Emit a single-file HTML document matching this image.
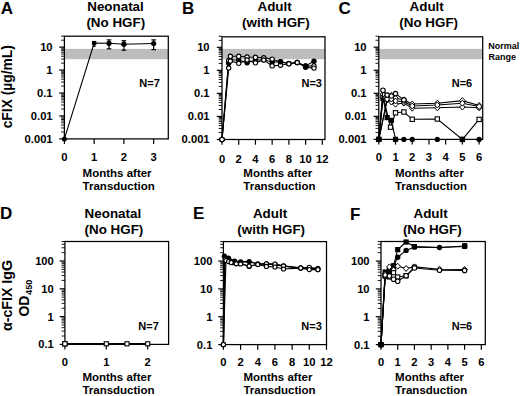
<!DOCTYPE html><html><head><meta charset="utf-8"><style>html,body{margin:0;padding:0;background:#fff;}svg{display:block;}</style></head><body>
<svg width="520" height="396" viewBox="0 0 520 396" font-family='"Liberation Sans", sans-serif'>
<rect width="520" height="396" fill="#fff"/>
<rect x="64.40" y="48.90" width="103.90" height="10.30" fill="#bdbdbd"/>
<rect x="64.40" y="36.20" width="103.90" height="102.70" fill="none" stroke="#000" stroke-width="1.25"/>
<line x1="59.20" y1="138.90" x2="64.40" y2="138.90" stroke="#000" stroke-width="1.2"/>
<line x1="61.10" y1="131.99" x2="64.40" y2="131.99" stroke="#000" stroke-width="0.9"/>
<line x1="61.10" y1="127.95" x2="64.40" y2="127.95" stroke="#000" stroke-width="0.9"/>
<line x1="61.10" y1="125.08" x2="64.40" y2="125.08" stroke="#000" stroke-width="0.9"/>
<line x1="61.10" y1="122.86" x2="64.40" y2="122.86" stroke="#000" stroke-width="0.9"/>
<line x1="61.10" y1="121.04" x2="64.40" y2="121.04" stroke="#000" stroke-width="0.9"/>
<line x1="61.10" y1="119.50" x2="64.40" y2="119.50" stroke="#000" stroke-width="0.9"/>
<line x1="61.10" y1="118.17" x2="64.40" y2="118.17" stroke="#000" stroke-width="0.9"/>
<line x1="61.10" y1="117.00" x2="64.40" y2="117.00" stroke="#000" stroke-width="0.9"/>
<line x1="59.20" y1="115.95" x2="64.40" y2="115.95" stroke="#000" stroke-width="1.2"/>
<line x1="61.10" y1="109.04" x2="64.40" y2="109.04" stroke="#000" stroke-width="0.9"/>
<line x1="61.10" y1="105.00" x2="64.40" y2="105.00" stroke="#000" stroke-width="0.9"/>
<line x1="61.10" y1="102.13" x2="64.40" y2="102.13" stroke="#000" stroke-width="0.9"/>
<line x1="61.10" y1="99.91" x2="64.40" y2="99.91" stroke="#000" stroke-width="0.9"/>
<line x1="61.10" y1="98.09" x2="64.40" y2="98.09" stroke="#000" stroke-width="0.9"/>
<line x1="61.10" y1="96.55" x2="64.40" y2="96.55" stroke="#000" stroke-width="0.9"/>
<line x1="61.10" y1="95.22" x2="64.40" y2="95.22" stroke="#000" stroke-width="0.9"/>
<line x1="61.10" y1="94.05" x2="64.40" y2="94.05" stroke="#000" stroke-width="0.9"/>
<line x1="59.20" y1="93.00" x2="64.40" y2="93.00" stroke="#000" stroke-width="1.2"/>
<line x1="61.10" y1="86.09" x2="64.40" y2="86.09" stroke="#000" stroke-width="0.9"/>
<line x1="61.10" y1="82.05" x2="64.40" y2="82.05" stroke="#000" stroke-width="0.9"/>
<line x1="61.10" y1="79.18" x2="64.40" y2="79.18" stroke="#000" stroke-width="0.9"/>
<line x1="61.10" y1="76.96" x2="64.40" y2="76.96" stroke="#000" stroke-width="0.9"/>
<line x1="61.10" y1="75.14" x2="64.40" y2="75.14" stroke="#000" stroke-width="0.9"/>
<line x1="61.10" y1="73.60" x2="64.40" y2="73.60" stroke="#000" stroke-width="0.9"/>
<line x1="61.10" y1="72.27" x2="64.40" y2="72.27" stroke="#000" stroke-width="0.9"/>
<line x1="61.10" y1="71.10" x2="64.40" y2="71.10" stroke="#000" stroke-width="0.9"/>
<line x1="59.20" y1="70.05" x2="64.40" y2="70.05" stroke="#000" stroke-width="1.2"/>
<line x1="61.10" y1="63.14" x2="64.40" y2="63.14" stroke="#000" stroke-width="0.9"/>
<line x1="61.10" y1="59.10" x2="64.40" y2="59.10" stroke="#000" stroke-width="0.9"/>
<line x1="61.10" y1="56.23" x2="64.40" y2="56.23" stroke="#000" stroke-width="0.9"/>
<line x1="61.10" y1="54.01" x2="64.40" y2="54.01" stroke="#000" stroke-width="0.9"/>
<line x1="61.10" y1="52.19" x2="64.40" y2="52.19" stroke="#000" stroke-width="0.9"/>
<line x1="61.10" y1="50.65" x2="64.40" y2="50.65" stroke="#000" stroke-width="0.9"/>
<line x1="61.10" y1="49.32" x2="64.40" y2="49.32" stroke="#000" stroke-width="0.9"/>
<line x1="61.10" y1="48.15" x2="64.40" y2="48.15" stroke="#000" stroke-width="0.9"/>
<line x1="59.20" y1="47.10" x2="64.40" y2="47.10" stroke="#000" stroke-width="1.2"/>
<line x1="61.10" y1="40.19" x2="64.40" y2="40.19" stroke="#000" stroke-width="0.9"/>
<line x1="61.10" y1="36.15" x2="64.40" y2="36.15" stroke="#000" stroke-width="0.9"/>
<text x="52.60" y="142.80" font-size="11.2" text-anchor="end" font-weight="bold" >0.001</text>
<text x="52.60" y="119.85" font-size="11.2" text-anchor="end" font-weight="bold" >0.01</text>
<text x="52.60" y="96.90" font-size="11.2" text-anchor="end" font-weight="bold" >0.1</text>
<text x="52.60" y="73.95" font-size="11.2" text-anchor="end" font-weight="bold" >1</text>
<text x="52.60" y="51.00" font-size="11.2" text-anchor="end" font-weight="bold" >10</text>
<line x1="64.40" y1="138.90" x2="64.40" y2="144.10" stroke="#000" stroke-width="1.2"/>
<text x="64.40" y="160.80" font-size="11.2" text-anchor="middle" font-weight="bold" >0</text>
<line x1="94.15" y1="138.90" x2="94.15" y2="144.10" stroke="#000" stroke-width="1.2"/>
<text x="94.15" y="160.80" font-size="11.2" text-anchor="middle" font-weight="bold" >1</text>
<line x1="123.90" y1="138.90" x2="123.90" y2="144.10" stroke="#000" stroke-width="1.2"/>
<text x="123.90" y="160.80" font-size="11.2" text-anchor="middle" font-weight="bold" >2</text>
<line x1="153.65" y1="138.90" x2="153.65" y2="144.10" stroke="#000" stroke-width="1.2"/>
<text x="153.65" y="160.80" font-size="11.2" text-anchor="middle" font-weight="bold" >3</text>
<rect x="222.00" y="48.90" width="103.00" height="10.30" fill="#bdbdbd"/>
<rect x="222.00" y="36.80" width="103.00" height="102.70" fill="none" stroke="#000" stroke-width="1.25"/>
<line x1="216.80" y1="139.50" x2="222.00" y2="139.50" stroke="#000" stroke-width="1.2"/>
<line x1="218.70" y1="132.56" x2="222.00" y2="132.56" stroke="#000" stroke-width="0.9"/>
<line x1="218.70" y1="128.50" x2="222.00" y2="128.50" stroke="#000" stroke-width="0.9"/>
<line x1="218.70" y1="125.62" x2="222.00" y2="125.62" stroke="#000" stroke-width="0.9"/>
<line x1="218.70" y1="123.39" x2="222.00" y2="123.39" stroke="#000" stroke-width="0.9"/>
<line x1="218.70" y1="121.56" x2="222.00" y2="121.56" stroke="#000" stroke-width="0.9"/>
<line x1="218.70" y1="120.02" x2="222.00" y2="120.02" stroke="#000" stroke-width="0.9"/>
<line x1="218.70" y1="118.68" x2="222.00" y2="118.68" stroke="#000" stroke-width="0.9"/>
<line x1="218.70" y1="117.50" x2="222.00" y2="117.50" stroke="#000" stroke-width="0.9"/>
<line x1="216.80" y1="116.45" x2="222.00" y2="116.45" stroke="#000" stroke-width="1.2"/>
<line x1="218.70" y1="109.51" x2="222.00" y2="109.51" stroke="#000" stroke-width="0.9"/>
<line x1="218.70" y1="105.45" x2="222.00" y2="105.45" stroke="#000" stroke-width="0.9"/>
<line x1="218.70" y1="102.57" x2="222.00" y2="102.57" stroke="#000" stroke-width="0.9"/>
<line x1="218.70" y1="100.34" x2="222.00" y2="100.34" stroke="#000" stroke-width="0.9"/>
<line x1="218.70" y1="98.51" x2="222.00" y2="98.51" stroke="#000" stroke-width="0.9"/>
<line x1="218.70" y1="96.97" x2="222.00" y2="96.97" stroke="#000" stroke-width="0.9"/>
<line x1="218.70" y1="95.63" x2="222.00" y2="95.63" stroke="#000" stroke-width="0.9"/>
<line x1="218.70" y1="94.45" x2="222.00" y2="94.45" stroke="#000" stroke-width="0.9"/>
<line x1="216.80" y1="93.40" x2="222.00" y2="93.40" stroke="#000" stroke-width="1.2"/>
<line x1="218.70" y1="86.46" x2="222.00" y2="86.46" stroke="#000" stroke-width="0.9"/>
<line x1="218.70" y1="82.40" x2="222.00" y2="82.40" stroke="#000" stroke-width="0.9"/>
<line x1="218.70" y1="79.52" x2="222.00" y2="79.52" stroke="#000" stroke-width="0.9"/>
<line x1="218.70" y1="77.29" x2="222.00" y2="77.29" stroke="#000" stroke-width="0.9"/>
<line x1="218.70" y1="75.46" x2="222.00" y2="75.46" stroke="#000" stroke-width="0.9"/>
<line x1="218.70" y1="73.92" x2="222.00" y2="73.92" stroke="#000" stroke-width="0.9"/>
<line x1="218.70" y1="72.58" x2="222.00" y2="72.58" stroke="#000" stroke-width="0.9"/>
<line x1="218.70" y1="71.40" x2="222.00" y2="71.40" stroke="#000" stroke-width="0.9"/>
<line x1="216.80" y1="70.35" x2="222.00" y2="70.35" stroke="#000" stroke-width="1.2"/>
<line x1="218.70" y1="63.41" x2="222.00" y2="63.41" stroke="#000" stroke-width="0.9"/>
<line x1="218.70" y1="59.35" x2="222.00" y2="59.35" stroke="#000" stroke-width="0.9"/>
<line x1="218.70" y1="56.47" x2="222.00" y2="56.47" stroke="#000" stroke-width="0.9"/>
<line x1="218.70" y1="54.24" x2="222.00" y2="54.24" stroke="#000" stroke-width="0.9"/>
<line x1="218.70" y1="52.41" x2="222.00" y2="52.41" stroke="#000" stroke-width="0.9"/>
<line x1="218.70" y1="50.87" x2="222.00" y2="50.87" stroke="#000" stroke-width="0.9"/>
<line x1="218.70" y1="49.53" x2="222.00" y2="49.53" stroke="#000" stroke-width="0.9"/>
<line x1="218.70" y1="48.35" x2="222.00" y2="48.35" stroke="#000" stroke-width="0.9"/>
<line x1="216.80" y1="47.30" x2="222.00" y2="47.30" stroke="#000" stroke-width="1.2"/>
<line x1="218.70" y1="40.36" x2="222.00" y2="40.36" stroke="#000" stroke-width="0.9"/>
<line x1="218.70" y1="36.30" x2="222.00" y2="36.30" stroke="#000" stroke-width="0.9"/>
<text x="209.60" y="143.40" font-size="11.2" text-anchor="end" font-weight="bold" >0.001</text>
<text x="209.60" y="120.35" font-size="11.2" text-anchor="end" font-weight="bold" >0.01</text>
<text x="209.60" y="97.30" font-size="11.2" text-anchor="end" font-weight="bold" >0.1</text>
<text x="209.60" y="74.25" font-size="11.2" text-anchor="end" font-weight="bold" >1</text>
<text x="209.60" y="51.20" font-size="11.2" text-anchor="end" font-weight="bold" >10</text>
<line x1="222.00" y1="139.50" x2="222.00" y2="144.70" stroke="#000" stroke-width="1.2"/>
<text x="222.00" y="162.50" font-size="11.2" text-anchor="middle" font-weight="bold" >0</text>
<line x1="238.72" y1="139.50" x2="238.72" y2="144.70" stroke="#000" stroke-width="1.2"/>
<text x="238.72" y="162.50" font-size="11.2" text-anchor="middle" font-weight="bold" >2</text>
<line x1="255.44" y1="139.50" x2="255.44" y2="144.70" stroke="#000" stroke-width="1.2"/>
<text x="255.44" y="162.50" font-size="11.2" text-anchor="middle" font-weight="bold" >4</text>
<line x1="272.16" y1="139.50" x2="272.16" y2="144.70" stroke="#000" stroke-width="1.2"/>
<text x="272.16" y="162.50" font-size="11.2" text-anchor="middle" font-weight="bold" >6</text>
<line x1="288.88" y1="139.50" x2="288.88" y2="144.70" stroke="#000" stroke-width="1.2"/>
<text x="288.88" y="162.50" font-size="11.2" text-anchor="middle" font-weight="bold" >8</text>
<line x1="305.60" y1="139.50" x2="305.60" y2="144.70" stroke="#000" stroke-width="1.2"/>
<text x="305.60" y="162.50" font-size="11.2" text-anchor="middle" font-weight="bold" >10</text>
<line x1="322.32" y1="139.50" x2="322.32" y2="144.70" stroke="#000" stroke-width="1.2"/>
<text x="322.32" y="162.50" font-size="11.2" text-anchor="middle" font-weight="bold" >12</text>
<rect x="378.80" y="48.90" width="103.90" height="10.30" fill="#bdbdbd"/>
<rect x="378.80" y="36.80" width="103.90" height="102.60" fill="none" stroke="#000" stroke-width="1.25"/>
<line x1="373.60" y1="139.40" x2="378.80" y2="139.40" stroke="#000" stroke-width="1.2"/>
<line x1="375.50" y1="132.46" x2="378.80" y2="132.46" stroke="#000" stroke-width="0.9"/>
<line x1="375.50" y1="128.40" x2="378.80" y2="128.40" stroke="#000" stroke-width="0.9"/>
<line x1="375.50" y1="125.52" x2="378.80" y2="125.52" stroke="#000" stroke-width="0.9"/>
<line x1="375.50" y1="123.29" x2="378.80" y2="123.29" stroke="#000" stroke-width="0.9"/>
<line x1="375.50" y1="121.46" x2="378.80" y2="121.46" stroke="#000" stroke-width="0.9"/>
<line x1="375.50" y1="119.92" x2="378.80" y2="119.92" stroke="#000" stroke-width="0.9"/>
<line x1="375.50" y1="118.58" x2="378.80" y2="118.58" stroke="#000" stroke-width="0.9"/>
<line x1="375.50" y1="117.40" x2="378.80" y2="117.40" stroke="#000" stroke-width="0.9"/>
<line x1="373.60" y1="116.35" x2="378.80" y2="116.35" stroke="#000" stroke-width="1.2"/>
<line x1="375.50" y1="109.41" x2="378.80" y2="109.41" stroke="#000" stroke-width="0.9"/>
<line x1="375.50" y1="105.35" x2="378.80" y2="105.35" stroke="#000" stroke-width="0.9"/>
<line x1="375.50" y1="102.47" x2="378.80" y2="102.47" stroke="#000" stroke-width="0.9"/>
<line x1="375.50" y1="100.24" x2="378.80" y2="100.24" stroke="#000" stroke-width="0.9"/>
<line x1="375.50" y1="98.41" x2="378.80" y2="98.41" stroke="#000" stroke-width="0.9"/>
<line x1="375.50" y1="96.87" x2="378.80" y2="96.87" stroke="#000" stroke-width="0.9"/>
<line x1="375.50" y1="95.53" x2="378.80" y2="95.53" stroke="#000" stroke-width="0.9"/>
<line x1="375.50" y1="94.35" x2="378.80" y2="94.35" stroke="#000" stroke-width="0.9"/>
<line x1="373.60" y1="93.30" x2="378.80" y2="93.30" stroke="#000" stroke-width="1.2"/>
<line x1="375.50" y1="86.36" x2="378.80" y2="86.36" stroke="#000" stroke-width="0.9"/>
<line x1="375.50" y1="82.30" x2="378.80" y2="82.30" stroke="#000" stroke-width="0.9"/>
<line x1="375.50" y1="79.42" x2="378.80" y2="79.42" stroke="#000" stroke-width="0.9"/>
<line x1="375.50" y1="77.19" x2="378.80" y2="77.19" stroke="#000" stroke-width="0.9"/>
<line x1="375.50" y1="75.36" x2="378.80" y2="75.36" stroke="#000" stroke-width="0.9"/>
<line x1="375.50" y1="73.82" x2="378.80" y2="73.82" stroke="#000" stroke-width="0.9"/>
<line x1="375.50" y1="72.48" x2="378.80" y2="72.48" stroke="#000" stroke-width="0.9"/>
<line x1="375.50" y1="71.30" x2="378.80" y2="71.30" stroke="#000" stroke-width="0.9"/>
<line x1="373.60" y1="70.25" x2="378.80" y2="70.25" stroke="#000" stroke-width="1.2"/>
<line x1="375.50" y1="63.31" x2="378.80" y2="63.31" stroke="#000" stroke-width="0.9"/>
<line x1="375.50" y1="59.25" x2="378.80" y2="59.25" stroke="#000" stroke-width="0.9"/>
<line x1="375.50" y1="56.37" x2="378.80" y2="56.37" stroke="#000" stroke-width="0.9"/>
<line x1="375.50" y1="54.14" x2="378.80" y2="54.14" stroke="#000" stroke-width="0.9"/>
<line x1="375.50" y1="52.31" x2="378.80" y2="52.31" stroke="#000" stroke-width="0.9"/>
<line x1="375.50" y1="50.77" x2="378.80" y2="50.77" stroke="#000" stroke-width="0.9"/>
<line x1="375.50" y1="49.43" x2="378.80" y2="49.43" stroke="#000" stroke-width="0.9"/>
<line x1="375.50" y1="48.25" x2="378.80" y2="48.25" stroke="#000" stroke-width="0.9"/>
<line x1="373.60" y1="47.20" x2="378.80" y2="47.20" stroke="#000" stroke-width="1.2"/>
<line x1="375.50" y1="40.26" x2="378.80" y2="40.26" stroke="#000" stroke-width="0.9"/>
<line x1="375.50" y1="36.20" x2="378.80" y2="36.20" stroke="#000" stroke-width="0.9"/>
<text x="366.60" y="143.30" font-size="11.2" text-anchor="end" font-weight="bold" >0.001</text>
<text x="366.60" y="120.25" font-size="11.2" text-anchor="end" font-weight="bold" >0.01</text>
<text x="366.60" y="97.20" font-size="11.2" text-anchor="end" font-weight="bold" >0.1</text>
<text x="366.60" y="74.15" font-size="11.2" text-anchor="end" font-weight="bold" >1</text>
<text x="366.60" y="51.10" font-size="11.2" text-anchor="end" font-weight="bold" >10</text>
<line x1="378.80" y1="139.40" x2="378.80" y2="144.60" stroke="#000" stroke-width="1.2"/>
<text x="378.80" y="161.20" font-size="11.2" text-anchor="middle" font-weight="bold" >0</text>
<line x1="395.52" y1="139.40" x2="395.52" y2="144.60" stroke="#000" stroke-width="1.2"/>
<text x="395.52" y="161.20" font-size="11.2" text-anchor="middle" font-weight="bold" >1</text>
<line x1="412.24" y1="139.40" x2="412.24" y2="144.60" stroke="#000" stroke-width="1.2"/>
<text x="412.24" y="161.20" font-size="11.2" text-anchor="middle" font-weight="bold" >2</text>
<line x1="428.96" y1="139.40" x2="428.96" y2="144.60" stroke="#000" stroke-width="1.2"/>
<text x="428.96" y="161.20" font-size="11.2" text-anchor="middle" font-weight="bold" >3</text>
<line x1="445.68" y1="139.40" x2="445.68" y2="144.60" stroke="#000" stroke-width="1.2"/>
<text x="445.68" y="161.20" font-size="11.2" text-anchor="middle" font-weight="bold" >4</text>
<line x1="462.40" y1="139.40" x2="462.40" y2="144.60" stroke="#000" stroke-width="1.2"/>
<text x="462.40" y="161.20" font-size="11.2" text-anchor="middle" font-weight="bold" >5</text>
<line x1="479.12" y1="139.40" x2="479.12" y2="144.60" stroke="#000" stroke-width="1.2"/>
<text x="479.12" y="161.20" font-size="11.2" text-anchor="middle" font-weight="bold" >6</text>
<rect x="64.90" y="241.50" width="103.70" height="102.90" fill="none" stroke="#000" stroke-width="1.25"/>
<line x1="59.70" y1="344.40" x2="64.90" y2="344.40" stroke="#000" stroke-width="1.2"/>
<line x1="61.60" y1="336.03" x2="64.90" y2="336.03" stroke="#000" stroke-width="0.9"/>
<line x1="61.60" y1="331.14" x2="64.90" y2="331.14" stroke="#000" stroke-width="0.9"/>
<line x1="61.60" y1="327.66" x2="64.90" y2="327.66" stroke="#000" stroke-width="0.9"/>
<line x1="61.60" y1="324.97" x2="64.90" y2="324.97" stroke="#000" stroke-width="0.9"/>
<line x1="61.60" y1="322.77" x2="64.90" y2="322.77" stroke="#000" stroke-width="0.9"/>
<line x1="61.60" y1="320.91" x2="64.90" y2="320.91" stroke="#000" stroke-width="0.9"/>
<line x1="61.60" y1="319.29" x2="64.90" y2="319.29" stroke="#000" stroke-width="0.9"/>
<line x1="61.60" y1="317.87" x2="64.90" y2="317.87" stroke="#000" stroke-width="0.9"/>
<line x1="59.70" y1="316.60" x2="64.90" y2="316.60" stroke="#000" stroke-width="1.2"/>
<line x1="61.60" y1="308.23" x2="64.90" y2="308.23" stroke="#000" stroke-width="0.9"/>
<line x1="61.60" y1="303.34" x2="64.90" y2="303.34" stroke="#000" stroke-width="0.9"/>
<line x1="61.60" y1="299.86" x2="64.90" y2="299.86" stroke="#000" stroke-width="0.9"/>
<line x1="61.60" y1="297.17" x2="64.90" y2="297.17" stroke="#000" stroke-width="0.9"/>
<line x1="61.60" y1="294.97" x2="64.90" y2="294.97" stroke="#000" stroke-width="0.9"/>
<line x1="61.60" y1="293.11" x2="64.90" y2="293.11" stroke="#000" stroke-width="0.9"/>
<line x1="61.60" y1="291.49" x2="64.90" y2="291.49" stroke="#000" stroke-width="0.9"/>
<line x1="61.60" y1="290.07" x2="64.90" y2="290.07" stroke="#000" stroke-width="0.9"/>
<line x1="59.70" y1="288.80" x2="64.90" y2="288.80" stroke="#000" stroke-width="1.2"/>
<line x1="61.60" y1="280.43" x2="64.90" y2="280.43" stroke="#000" stroke-width="0.9"/>
<line x1="61.60" y1="275.54" x2="64.90" y2="275.54" stroke="#000" stroke-width="0.9"/>
<line x1="61.60" y1="272.06" x2="64.90" y2="272.06" stroke="#000" stroke-width="0.9"/>
<line x1="61.60" y1="269.37" x2="64.90" y2="269.37" stroke="#000" stroke-width="0.9"/>
<line x1="61.60" y1="267.17" x2="64.90" y2="267.17" stroke="#000" stroke-width="0.9"/>
<line x1="61.60" y1="265.31" x2="64.90" y2="265.31" stroke="#000" stroke-width="0.9"/>
<line x1="61.60" y1="263.69" x2="64.90" y2="263.69" stroke="#000" stroke-width="0.9"/>
<line x1="61.60" y1="262.27" x2="64.90" y2="262.27" stroke="#000" stroke-width="0.9"/>
<line x1="59.70" y1="261.00" x2="64.90" y2="261.00" stroke="#000" stroke-width="1.2"/>
<line x1="61.60" y1="252.63" x2="64.90" y2="252.63" stroke="#000" stroke-width="0.9"/>
<line x1="61.60" y1="247.74" x2="64.90" y2="247.74" stroke="#000" stroke-width="0.9"/>
<line x1="61.60" y1="244.26" x2="64.90" y2="244.26" stroke="#000" stroke-width="0.9"/>
<line x1="61.60" y1="241.57" x2="64.90" y2="241.57" stroke="#000" stroke-width="0.9"/>
<text x="53.80" y="348.30" font-size="11.2" text-anchor="end" font-weight="bold" >0.1</text>
<text x="53.80" y="320.50" font-size="11.2" text-anchor="end" font-weight="bold" >1</text>
<text x="53.80" y="292.70" font-size="11.2" text-anchor="end" font-weight="bold" >10</text>
<text x="53.80" y="264.90" font-size="11.2" text-anchor="end" font-weight="bold" >100</text>
<line x1="64.90" y1="344.40" x2="64.90" y2="349.60" stroke="#000" stroke-width="1.2"/>
<text x="64.90" y="366.20" font-size="11.2" text-anchor="middle" font-weight="bold" >0</text>
<line x1="106.30" y1="344.40" x2="106.30" y2="349.60" stroke="#000" stroke-width="1.2"/>
<text x="106.30" y="366.20" font-size="11.2" text-anchor="middle" font-weight="bold" >1</text>
<line x1="147.70" y1="344.40" x2="147.70" y2="349.60" stroke="#000" stroke-width="1.2"/>
<text x="147.70" y="366.20" font-size="11.2" text-anchor="middle" font-weight="bold" >2</text>
<rect x="223.40" y="241.60" width="103.10" height="103.00" fill="none" stroke="#000" stroke-width="1.25"/>
<line x1="218.20" y1="344.60" x2="223.40" y2="344.60" stroke="#000" stroke-width="1.2"/>
<line x1="220.10" y1="336.22" x2="223.40" y2="336.22" stroke="#000" stroke-width="0.9"/>
<line x1="220.10" y1="331.31" x2="223.40" y2="331.31" stroke="#000" stroke-width="0.9"/>
<line x1="220.10" y1="327.83" x2="223.40" y2="327.83" stroke="#000" stroke-width="0.9"/>
<line x1="220.10" y1="325.13" x2="223.40" y2="325.13" stroke="#000" stroke-width="0.9"/>
<line x1="220.10" y1="322.93" x2="223.40" y2="322.93" stroke="#000" stroke-width="0.9"/>
<line x1="220.10" y1="321.06" x2="223.40" y2="321.06" stroke="#000" stroke-width="0.9"/>
<line x1="220.10" y1="319.45" x2="223.40" y2="319.45" stroke="#000" stroke-width="0.9"/>
<line x1="220.10" y1="318.02" x2="223.40" y2="318.02" stroke="#000" stroke-width="0.9"/>
<line x1="218.20" y1="316.75" x2="223.40" y2="316.75" stroke="#000" stroke-width="1.2"/>
<line x1="220.10" y1="308.37" x2="223.40" y2="308.37" stroke="#000" stroke-width="0.9"/>
<line x1="220.10" y1="303.46" x2="223.40" y2="303.46" stroke="#000" stroke-width="0.9"/>
<line x1="220.10" y1="299.98" x2="223.40" y2="299.98" stroke="#000" stroke-width="0.9"/>
<line x1="220.10" y1="297.28" x2="223.40" y2="297.28" stroke="#000" stroke-width="0.9"/>
<line x1="220.10" y1="295.08" x2="223.40" y2="295.08" stroke="#000" stroke-width="0.9"/>
<line x1="220.10" y1="293.21" x2="223.40" y2="293.21" stroke="#000" stroke-width="0.9"/>
<line x1="220.10" y1="291.60" x2="223.40" y2="291.60" stroke="#000" stroke-width="0.9"/>
<line x1="220.10" y1="290.17" x2="223.40" y2="290.17" stroke="#000" stroke-width="0.9"/>
<line x1="218.20" y1="288.90" x2="223.40" y2="288.90" stroke="#000" stroke-width="1.2"/>
<line x1="220.10" y1="280.52" x2="223.40" y2="280.52" stroke="#000" stroke-width="0.9"/>
<line x1="220.10" y1="275.61" x2="223.40" y2="275.61" stroke="#000" stroke-width="0.9"/>
<line x1="220.10" y1="272.13" x2="223.40" y2="272.13" stroke="#000" stroke-width="0.9"/>
<line x1="220.10" y1="269.43" x2="223.40" y2="269.43" stroke="#000" stroke-width="0.9"/>
<line x1="220.10" y1="267.23" x2="223.40" y2="267.23" stroke="#000" stroke-width="0.9"/>
<line x1="220.10" y1="265.36" x2="223.40" y2="265.36" stroke="#000" stroke-width="0.9"/>
<line x1="220.10" y1="263.75" x2="223.40" y2="263.75" stroke="#000" stroke-width="0.9"/>
<line x1="220.10" y1="262.32" x2="223.40" y2="262.32" stroke="#000" stroke-width="0.9"/>
<line x1="218.20" y1="261.05" x2="223.40" y2="261.05" stroke="#000" stroke-width="1.2"/>
<line x1="220.10" y1="252.67" x2="223.40" y2="252.67" stroke="#000" stroke-width="0.9"/>
<line x1="220.10" y1="247.76" x2="223.40" y2="247.76" stroke="#000" stroke-width="0.9"/>
<line x1="220.10" y1="244.28" x2="223.40" y2="244.28" stroke="#000" stroke-width="0.9"/>
<line x1="220.10" y1="241.58" x2="223.40" y2="241.58" stroke="#000" stroke-width="0.9"/>
<text x="212.40" y="348.50" font-size="11.2" text-anchor="end" font-weight="bold" >0.1</text>
<text x="212.40" y="320.65" font-size="11.2" text-anchor="end" font-weight="bold" >1</text>
<text x="212.40" y="292.80" font-size="11.2" text-anchor="end" font-weight="bold" >10</text>
<text x="212.40" y="264.95" font-size="11.2" text-anchor="end" font-weight="bold" >100</text>
<line x1="223.40" y1="344.60" x2="223.40" y2="349.80" stroke="#000" stroke-width="1.2"/>
<text x="223.40" y="366.20" font-size="11.2" text-anchor="middle" font-weight="bold" >0</text>
<line x1="240.58" y1="344.60" x2="240.58" y2="349.80" stroke="#000" stroke-width="1.2"/>
<text x="240.58" y="366.20" font-size="11.2" text-anchor="middle" font-weight="bold" >2</text>
<line x1="257.76" y1="344.60" x2="257.76" y2="349.80" stroke="#000" stroke-width="1.2"/>
<text x="257.76" y="366.20" font-size="11.2" text-anchor="middle" font-weight="bold" >4</text>
<line x1="274.94" y1="344.60" x2="274.94" y2="349.80" stroke="#000" stroke-width="1.2"/>
<text x="274.94" y="366.20" font-size="11.2" text-anchor="middle" font-weight="bold" >6</text>
<line x1="292.12" y1="344.60" x2="292.12" y2="349.80" stroke="#000" stroke-width="1.2"/>
<text x="292.12" y="366.20" font-size="11.2" text-anchor="middle" font-weight="bold" >8</text>
<line x1="309.30" y1="344.60" x2="309.30" y2="349.80" stroke="#000" stroke-width="1.2"/>
<text x="309.30" y="366.20" font-size="11.2" text-anchor="middle" font-weight="bold" >10</text>
<line x1="326.48" y1="344.60" x2="326.48" y2="349.80" stroke="#000" stroke-width="1.2"/>
<text x="326.48" y="366.20" font-size="11.2" text-anchor="middle" font-weight="bold" >12</text>
<rect x="381.00" y="241.50" width="104.30" height="103.10" fill="none" stroke="#000" stroke-width="1.25"/>
<line x1="375.80" y1="344.60" x2="381.00" y2="344.60" stroke="#000" stroke-width="1.2"/>
<line x1="377.70" y1="336.22" x2="381.00" y2="336.22" stroke="#000" stroke-width="0.9"/>
<line x1="377.70" y1="331.31" x2="381.00" y2="331.31" stroke="#000" stroke-width="0.9"/>
<line x1="377.70" y1="327.83" x2="381.00" y2="327.83" stroke="#000" stroke-width="0.9"/>
<line x1="377.70" y1="325.13" x2="381.00" y2="325.13" stroke="#000" stroke-width="0.9"/>
<line x1="377.70" y1="322.93" x2="381.00" y2="322.93" stroke="#000" stroke-width="0.9"/>
<line x1="377.70" y1="321.06" x2="381.00" y2="321.06" stroke="#000" stroke-width="0.9"/>
<line x1="377.70" y1="319.45" x2="381.00" y2="319.45" stroke="#000" stroke-width="0.9"/>
<line x1="377.70" y1="318.02" x2="381.00" y2="318.02" stroke="#000" stroke-width="0.9"/>
<line x1="375.80" y1="316.75" x2="381.00" y2="316.75" stroke="#000" stroke-width="1.2"/>
<line x1="377.70" y1="308.37" x2="381.00" y2="308.37" stroke="#000" stroke-width="0.9"/>
<line x1="377.70" y1="303.46" x2="381.00" y2="303.46" stroke="#000" stroke-width="0.9"/>
<line x1="377.70" y1="299.98" x2="381.00" y2="299.98" stroke="#000" stroke-width="0.9"/>
<line x1="377.70" y1="297.28" x2="381.00" y2="297.28" stroke="#000" stroke-width="0.9"/>
<line x1="377.70" y1="295.08" x2="381.00" y2="295.08" stroke="#000" stroke-width="0.9"/>
<line x1="377.70" y1="293.21" x2="381.00" y2="293.21" stroke="#000" stroke-width="0.9"/>
<line x1="377.70" y1="291.60" x2="381.00" y2="291.60" stroke="#000" stroke-width="0.9"/>
<line x1="377.70" y1="290.17" x2="381.00" y2="290.17" stroke="#000" stroke-width="0.9"/>
<line x1="375.80" y1="288.90" x2="381.00" y2="288.90" stroke="#000" stroke-width="1.2"/>
<line x1="377.70" y1="280.52" x2="381.00" y2="280.52" stroke="#000" stroke-width="0.9"/>
<line x1="377.70" y1="275.61" x2="381.00" y2="275.61" stroke="#000" stroke-width="0.9"/>
<line x1="377.70" y1="272.13" x2="381.00" y2="272.13" stroke="#000" stroke-width="0.9"/>
<line x1="377.70" y1="269.43" x2="381.00" y2="269.43" stroke="#000" stroke-width="0.9"/>
<line x1="377.70" y1="267.23" x2="381.00" y2="267.23" stroke="#000" stroke-width="0.9"/>
<line x1="377.70" y1="265.36" x2="381.00" y2="265.36" stroke="#000" stroke-width="0.9"/>
<line x1="377.70" y1="263.75" x2="381.00" y2="263.75" stroke="#000" stroke-width="0.9"/>
<line x1="377.70" y1="262.32" x2="381.00" y2="262.32" stroke="#000" stroke-width="0.9"/>
<line x1="375.80" y1="261.05" x2="381.00" y2="261.05" stroke="#000" stroke-width="1.2"/>
<line x1="377.70" y1="252.67" x2="381.00" y2="252.67" stroke="#000" stroke-width="0.9"/>
<line x1="377.70" y1="247.76" x2="381.00" y2="247.76" stroke="#000" stroke-width="0.9"/>
<line x1="377.70" y1="244.28" x2="381.00" y2="244.28" stroke="#000" stroke-width="0.9"/>
<line x1="377.70" y1="241.58" x2="381.00" y2="241.58" stroke="#000" stroke-width="0.9"/>
<text x="369.60" y="348.50" font-size="11.2" text-anchor="end" font-weight="bold" >0.1</text>
<text x="369.60" y="320.65" font-size="11.2" text-anchor="end" font-weight="bold" >1</text>
<text x="369.60" y="292.80" font-size="11.2" text-anchor="end" font-weight="bold" >10</text>
<text x="369.60" y="264.95" font-size="11.2" text-anchor="end" font-weight="bold" >100</text>
<line x1="381.00" y1="344.60" x2="381.00" y2="349.80" stroke="#000" stroke-width="1.2"/>
<text x="381.00" y="366.20" font-size="11.2" text-anchor="middle" font-weight="bold" >0</text>
<line x1="397.72" y1="344.60" x2="397.72" y2="349.80" stroke="#000" stroke-width="1.2"/>
<text x="397.72" y="366.20" font-size="11.2" text-anchor="middle" font-weight="bold" >1</text>
<line x1="414.44" y1="344.60" x2="414.44" y2="349.80" stroke="#000" stroke-width="1.2"/>
<text x="414.44" y="366.20" font-size="11.2" text-anchor="middle" font-weight="bold" >2</text>
<line x1="431.16" y1="344.60" x2="431.16" y2="349.80" stroke="#000" stroke-width="1.2"/>
<text x="431.16" y="366.20" font-size="11.2" text-anchor="middle" font-weight="bold" >3</text>
<line x1="447.88" y1="344.60" x2="447.88" y2="349.80" stroke="#000" stroke-width="1.2"/>
<text x="447.88" y="366.20" font-size="11.2" text-anchor="middle" font-weight="bold" >4</text>
<line x1="464.60" y1="344.60" x2="464.60" y2="349.80" stroke="#000" stroke-width="1.2"/>
<text x="464.60" y="366.20" font-size="11.2" text-anchor="middle" font-weight="bold" >5</text>
<line x1="481.32" y1="344.60" x2="481.32" y2="349.80" stroke="#000" stroke-width="1.2"/>
<text x="481.32" y="366.20" font-size="11.2" text-anchor="middle" font-weight="bold" >6</text>
<text x="0.80" y="13.50" font-size="17" text-anchor="start" font-weight="bold" >A</text>
<text x="182.00" y="13.60" font-size="17" text-anchor="start" font-weight="bold" >B</text>
<text x="338.40" y="13.80" font-size="17" text-anchor="start" font-weight="bold" >C</text>
<text x="0.00" y="219.30" font-size="17" text-anchor="start" font-weight="bold" >D</text>
<text x="193.00" y="219.20" font-size="17" text-anchor="start" font-weight="bold" >E</text>
<text x="350.00" y="219.60" font-size="17" text-anchor="start" font-weight="bold" >F</text>
<text x="115.50" y="11.00" font-size="13.4" text-anchor="middle" font-weight="bold" >Neonatal</text>
<text x="115.80" y="27.40" font-size="13.4" text-anchor="middle" font-weight="bold" >(No HGF)</text>
<text x="274.60" y="11.00" font-size="13.4" text-anchor="middle" font-weight="bold" >Adult</text>
<text x="275.90" y="27.40" font-size="13.4" text-anchor="middle" font-weight="bold" >(with HGF)</text>
<text x="426.70" y="11.00" font-size="13.4" text-anchor="middle" font-weight="bold" >Adult</text>
<text x="428.70" y="27.40" font-size="13.4" text-anchor="middle" font-weight="bold" >(No HGF)</text>
<text x="112.90" y="217.60" font-size="13.4" text-anchor="middle" font-weight="bold" >Neonatal</text>
<text x="113.90" y="234.10" font-size="13.4" text-anchor="middle" font-weight="bold" >(No HGF)</text>
<text x="270.00" y="217.60" font-size="13.4" text-anchor="middle" font-weight="bold" >Adult</text>
<text x="271.20" y="234.10" font-size="13.4" text-anchor="middle" font-weight="bold" >(with HGF)</text>
<text x="430.60" y="217.60" font-size="13.4" text-anchor="middle" font-weight="bold" >Adult</text>
<text x="432.30" y="234.10" font-size="13.4" text-anchor="middle" font-weight="bold" >(No HGF)</text>
<text x="82.60" y="176.90" font-size="11.5" text-anchor="start" font-weight="bold" >Months after</text>
<text x="82.60" y="189.90" font-size="11.5" text-anchor="start" font-weight="bold" >Transduction</text>
<text x="243.30" y="176.90" font-size="11.5" text-anchor="start" font-weight="bold" >Months after</text>
<text x="243.30" y="189.90" font-size="11.5" text-anchor="start" font-weight="bold" >Transduction</text>
<text x="394.90" y="176.90" font-size="11.5" text-anchor="start" font-weight="bold" >Months after</text>
<text x="394.90" y="189.90" font-size="11.5" text-anchor="start" font-weight="bold" >Transduction</text>
<text x="82.40" y="381.20" font-size="11.5" text-anchor="start" font-weight="bold" >Months after</text>
<text x="82.40" y="394.20" font-size="11.5" text-anchor="start" font-weight="bold" >Transduction</text>
<text x="243.40" y="381.20" font-size="11.5" text-anchor="start" font-weight="bold" >Months after</text>
<text x="243.40" y="394.20" font-size="11.5" text-anchor="start" font-weight="bold" >Transduction</text>
<text x="395.10" y="381.20" font-size="11.5" text-anchor="start" font-weight="bold" >Months after</text>
<text x="395.10" y="394.20" font-size="11.5" text-anchor="start" font-weight="bold" >Transduction</text>
<text x="159.80" y="86.80" font-size="11" text-anchor="end" font-weight="bold" >N=7</text>
<text x="322.00" y="86.70" font-size="11" text-anchor="end" font-weight="bold" >N=3</text>
<text x="472.20" y="86.70" font-size="11" text-anchor="end" font-weight="bold" >N=6</text>
<text x="158.80" y="329.60" font-size="11" text-anchor="end" font-weight="bold" >N=7</text>
<text x="321.80" y="329.70" font-size="11" text-anchor="end" font-weight="bold" >N=3</text>
<text x="472.20" y="329.70" font-size="11" text-anchor="end" font-weight="bold" >N=6</text>
<text x="488.30" y="48.50" font-size="9" text-anchor="start" font-weight="bold" >Normal</text>
<text x="488.50" y="59.50" font-size="9" text-anchor="start" font-weight="bold" >Range</text>
<text transform="translate(12.2,128.3) rotate(-90)" font-size="13.8" font-weight="bold" text-anchor="start">cFIX (µg/mL)</text>
<text transform="translate(11.6,331.0) rotate(-90)" font-size="14.2" font-weight="bold" text-anchor="start">α-cFIX IgG</text>
<text transform="translate(28.8,316.6) rotate(-90)" font-size="14" font-weight="bold" text-anchor="start">OD<tspan font-size="9.2" dx="0.7" dy="3.4">450</tspan></text>
<line x1="94.15" y1="42.00" x2="94.15" y2="46.30" stroke="#000" stroke-width="1.2"/>
<line x1="92.65" y1="42.00" x2="95.65" y2="42.00" stroke="#000" stroke-width="1.2"/>
<line x1="92.65" y1="46.30" x2="95.65" y2="46.30" stroke="#000" stroke-width="1.2"/>
<line x1="109.03" y1="39.90" x2="109.03" y2="48.80" stroke="#000" stroke-width="1.2"/>
<line x1="106.73" y1="39.90" x2="111.33" y2="39.90" stroke="#000" stroke-width="1.2"/>
<line x1="106.73" y1="48.80" x2="111.33" y2="48.80" stroke="#000" stroke-width="1.2"/>
<line x1="123.90" y1="40.70" x2="123.90" y2="50.20" stroke="#000" stroke-width="1.2"/>
<line x1="121.60" y1="40.70" x2="126.20" y2="40.70" stroke="#000" stroke-width="1.2"/>
<line x1="121.60" y1="50.20" x2="126.20" y2="50.20" stroke="#000" stroke-width="1.2"/>
<line x1="153.65" y1="39.90" x2="153.65" y2="49.60" stroke="#000" stroke-width="1.2"/>
<line x1="151.35" y1="39.90" x2="155.95" y2="39.90" stroke="#000" stroke-width="1.2"/>
<line x1="151.35" y1="49.60" x2="155.95" y2="49.60" stroke="#000" stroke-width="1.2"/>
<path d="M64.40,138.90 L94.15,43.00 L109.03,43.30 L123.90,44.20 L153.65,43.50" fill="none" stroke="#000" stroke-width="1.1"/>
<rect x="92.05" y="40.90" width="4.2" height="4.2" fill="#000"/>
<circle cx="109.03" cy="43.30" r="2.6" fill="#000"/>
<circle cx="123.90" cy="44.20" r="2.6" fill="#000"/>
<circle cx="153.65" cy="43.50" r="2.6" fill="#000"/>
<path d="M222.00,139.50 L228.69,63.30 L230.36,60.00 L238.72,60.00 L247.08,62.80 L255.44,60.00 L263.80,59.80 L272.16,62.00 L280.52,61.80 L288.88,63.50 L297.24,62.50 L305.60,65.90 L313.96,61.20" fill="none" stroke="#000" stroke-width="1.1"/>
<circle cx="222.00" cy="139.50" r="2.7" fill="#000"/>
<circle cx="228.69" cy="63.30" r="2.7" fill="#000"/>
<circle cx="230.36" cy="60.00" r="2.7" fill="#000"/>
<circle cx="238.72" cy="60.00" r="2.7" fill="#000"/>
<circle cx="247.08" cy="62.80" r="2.7" fill="#000"/>
<circle cx="255.44" cy="60.00" r="2.7" fill="#000"/>
<circle cx="263.80" cy="59.80" r="2.7" fill="#000"/>
<circle cx="272.16" cy="62.00" r="2.7" fill="#000"/>
<circle cx="280.52" cy="61.80" r="2.7" fill="#000"/>
<circle cx="288.88" cy="63.50" r="2.7" fill="#000"/>
<circle cx="297.24" cy="62.50" r="2.7" fill="#000"/>
<circle cx="305.60" cy="65.90" r="2.7" fill="#000"/>
<circle cx="313.96" cy="61.20" r="2.7" fill="#000"/>
<path d="M222.00,139.50 L228.69,60.40 L230.36,56.30 L238.72,56.30 L247.08,57.00 L255.44,57.30 L263.80,57.80 L272.16,59.10 L280.52,62.00 L288.88,63.80 L297.24,62.50 L305.60,66.00 L313.96,65.90" fill="none" stroke="#000" stroke-width="1.1"/>
<circle cx="222.00" cy="139.50" r="2.1500000000000004" fill="#fff" stroke="#000" stroke-width="1.1"/>
<circle cx="228.69" cy="60.40" r="2.1500000000000004" fill="#fff" stroke="#000" stroke-width="1.1"/>
<circle cx="230.36" cy="56.30" r="2.1500000000000004" fill="#fff" stroke="#000" stroke-width="1.1"/>
<circle cx="238.72" cy="56.30" r="2.1500000000000004" fill="#fff" stroke="#000" stroke-width="1.1"/>
<circle cx="247.08" cy="57.00" r="2.1500000000000004" fill="#fff" stroke="#000" stroke-width="1.1"/>
<circle cx="255.44" cy="57.30" r="2.1500000000000004" fill="#fff" stroke="#000" stroke-width="1.1"/>
<circle cx="263.80" cy="57.80" r="2.1500000000000004" fill="#fff" stroke="#000" stroke-width="1.1"/>
<circle cx="272.16" cy="59.10" r="2.1500000000000004" fill="#fff" stroke="#000" stroke-width="1.1"/>
<circle cx="280.52" cy="62.00" r="2.1500000000000004" fill="#fff" stroke="#000" stroke-width="1.1"/>
<circle cx="288.88" cy="63.80" r="2.1500000000000004" fill="#fff" stroke="#000" stroke-width="1.1"/>
<circle cx="297.24" cy="62.50" r="2.1500000000000004" fill="#fff" stroke="#000" stroke-width="1.1"/>
<circle cx="305.60" cy="66.00" r="2.1500000000000004" fill="#fff" stroke="#000" stroke-width="1.1"/>
<circle cx="313.96" cy="65.90" r="2.1500000000000004" fill="#fff" stroke="#000" stroke-width="1.1"/>
<path d="M222.00,139.50 L228.69,68.00 L230.36,61.00 L238.72,63.30 L247.08,60.00 L255.44,62.80 L263.80,60.00 L272.16,65.90 L280.52,65.20 L288.88,63.80 L297.24,62.50 L305.60,67.20 L313.96,68.10" fill="none" stroke="#000" stroke-width="1.1"/>
<circle cx="222.00" cy="139.50" r="2.1500000000000004" fill="#fff" stroke="#000" stroke-width="1.1"/>
<circle cx="228.69" cy="68.00" r="2.1500000000000004" fill="#fff" stroke="#000" stroke-width="1.1"/>
<circle cx="230.36" cy="61.00" r="2.1500000000000004" fill="#fff" stroke="#000" stroke-width="1.1"/>
<circle cx="238.72" cy="63.30" r="2.1500000000000004" fill="#fff" stroke="#000" stroke-width="1.1"/>
<circle cx="247.08" cy="60.00" r="2.1500000000000004" fill="#fff" stroke="#000" stroke-width="1.1"/>
<circle cx="255.44" cy="62.80" r="2.1500000000000004" fill="#fff" stroke="#000" stroke-width="1.1"/>
<circle cx="263.80" cy="60.00" r="2.1500000000000004" fill="#fff" stroke="#000" stroke-width="1.1"/>
<circle cx="272.16" cy="65.90" r="2.1500000000000004" fill="#fff" stroke="#000" stroke-width="1.1"/>
<circle cx="280.52" cy="65.20" r="2.1500000000000004" fill="#fff" stroke="#000" stroke-width="1.1"/>
<circle cx="288.88" cy="63.80" r="2.1500000000000004" fill="#fff" stroke="#000" stroke-width="1.1"/>
<circle cx="297.24" cy="62.50" r="2.1500000000000004" fill="#fff" stroke="#000" stroke-width="1.1"/>
<circle cx="305.60" cy="67.20" r="2.1500000000000004" fill="#fff" stroke="#000" stroke-width="1.1"/>
<circle cx="313.96" cy="68.10" r="2.1500000000000004" fill="#fff" stroke="#000" stroke-width="1.1"/>
<circle cx="305.60" cy="66.80" r="2.7" fill="#000"/>
<circle cx="280.52" cy="61.80" r="2.7" fill="#000"/>
<path d="M378.80,139.40 L382.98,98.40 L387.16,117.60 L391.34,120.40 L395.52,139.40" fill="none" stroke="#000" stroke-width="1.1"/>
<rect x="376.20" y="136.80" width="5.2" height="5.2" fill="#000"/>
<rect x="380.38" y="95.80" width="5.2" height="5.2" fill="#000"/>
<rect x="384.56" y="115.00" width="5.2" height="5.2" fill="#000"/>
<rect x="388.74" y="117.80" width="5.2" height="5.2" fill="#000"/>
<rect x="392.92" y="136.80" width="5.2" height="5.2" fill="#000"/>
<path d="M378.80,139.40 L382.98,96.00 L390.50,127.20 L395.52,112.80 L403.88,112.00 L412.24,119.30 L437.32,119.00 L462.40,139.40 L479.12,119.40" fill="none" stroke="#000" stroke-width="1.1"/>
<rect x="376.65" y="137.25" width="4.300000000000001" height="4.300000000000001" fill="#fff" stroke="#000" stroke-width="1.1"/>
<rect x="380.83" y="93.85" width="4.300000000000001" height="4.300000000000001" fill="#fff" stroke="#000" stroke-width="1.1"/>
<rect x="388.35" y="125.05" width="4.300000000000001" height="4.300000000000001" fill="#fff" stroke="#000" stroke-width="1.1"/>
<rect x="393.37" y="110.65" width="4.300000000000001" height="4.300000000000001" fill="#fff" stroke="#000" stroke-width="1.1"/>
<rect x="401.73" y="109.85" width="4.300000000000001" height="4.300000000000001" fill="#fff" stroke="#000" stroke-width="1.1"/>
<rect x="410.09" y="117.15" width="4.300000000000001" height="4.300000000000001" fill="#fff" stroke="#000" stroke-width="1.1"/>
<rect x="435.17" y="116.85" width="4.300000000000001" height="4.300000000000001" fill="#fff" stroke="#000" stroke-width="1.1"/>
<rect x="460.25" y="137.25" width="4.300000000000001" height="4.300000000000001" fill="#fff" stroke="#000" stroke-width="1.1"/>
<rect x="476.97" y="117.25" width="4.300000000000001" height="4.300000000000001" fill="#fff" stroke="#000" stroke-width="1.1"/>
<path d="M378.80,139.40 L387.16,100.00 L391.34,102.00 L395.52,104.20 L403.88,103.00 L412.24,108.20 L437.32,107.80 L462.40,107.00 L479.12,107.80" fill="none" stroke="#000" stroke-width="1.1"/>
<path d="M387.16,97.00 L389.86,100.00 L387.16,103.00 L384.46,100.00 Z" fill="#fff" stroke="#000" stroke-width="1"/>
<path d="M391.34,99.00 L394.04,102.00 L391.34,105.00 L388.64,102.00 Z" fill="#fff" stroke="#000" stroke-width="1"/>
<path d="M395.52,101.20 L398.22,104.20 L395.52,107.20 L392.82,104.20 Z" fill="#fff" stroke="#000" stroke-width="1"/>
<path d="M403.88,100.00 L406.58,103.00 L403.88,106.00 L401.18,103.00 Z" fill="#fff" stroke="#000" stroke-width="1"/>
<path d="M412.24,105.20 L414.94,108.20 L412.24,111.20 L409.54,108.20 Z" fill="#fff" stroke="#000" stroke-width="1"/>
<path d="M437.32,104.80 L440.02,107.80 L437.32,110.80 L434.62,107.80 Z" fill="#fff" stroke="#000" stroke-width="1"/>
<path d="M462.40,104.00 L465.10,107.00 L462.40,110.00 L459.70,107.00 Z" fill="#fff" stroke="#000" stroke-width="1"/>
<path d="M479.12,104.80 L481.82,107.80 L479.12,110.80 L476.42,107.80 Z" fill="#fff" stroke="#000" stroke-width="1"/>
<path d="M378.80,139.40 L382.98,94.20 L391.34,95.40 L395.52,98.10 L403.88,99.90 L412.24,104.00 L437.32,103.20 L462.40,100.60 L479.12,105.50" fill="none" stroke="#000" stroke-width="1.1"/>
<path d="M382.98,91.20 L385.68,94.20 L382.98,97.20 L380.28,94.20 Z" fill="#fff" stroke="#000" stroke-width="1"/>
<path d="M391.34,92.40 L394.04,95.40 L391.34,98.40 L388.64,95.40 Z" fill="#fff" stroke="#000" stroke-width="1"/>
<path d="M395.52,95.10 L398.22,98.10 L395.52,101.10 L392.82,98.10 Z" fill="#fff" stroke="#000" stroke-width="1"/>
<path d="M403.88,96.90 L406.58,99.90 L403.88,102.90 L401.18,99.90 Z" fill="#fff" stroke="#000" stroke-width="1"/>
<path d="M412.24,101.00 L414.94,104.00 L412.24,107.00 L409.54,104.00 Z" fill="#fff" stroke="#000" stroke-width="1"/>
<path d="M437.32,100.20 L440.02,103.20 L437.32,106.20 L434.62,103.20 Z" fill="#fff" stroke="#000" stroke-width="1"/>
<path d="M462.40,97.60 L465.10,100.60 L462.40,103.60 L459.70,100.60 Z" fill="#fff" stroke="#000" stroke-width="1"/>
<path d="M479.12,102.50 L481.82,105.50 L479.12,108.50 L476.42,105.50 Z" fill="#fff" stroke="#000" stroke-width="1"/>
<path d="M378.80,139.40 L387.16,99.00 L391.34,99.00 L395.52,101.00 L403.88,101.50 L412.24,106.00 L437.32,105.00 L462.40,103.20 L479.12,106.50" fill="none" stroke="#000" stroke-width="1.1"/>
<path d="M387.16,96.00 L389.86,99.00 L387.16,102.00 L384.46,99.00 Z" fill="#fff" stroke="#000" stroke-width="1"/>
<path d="M391.34,96.00 L394.04,99.00 L391.34,102.00 L388.64,99.00 Z" fill="#fff" stroke="#000" stroke-width="1"/>
<path d="M395.52,98.00 L398.22,101.00 L395.52,104.00 L392.82,101.00 Z" fill="#fff" stroke="#000" stroke-width="1"/>
<path d="M403.88,98.50 L406.58,101.50 L403.88,104.50 L401.18,101.50 Z" fill="#fff" stroke="#000" stroke-width="1"/>
<path d="M412.24,103.00 L414.94,106.00 L412.24,109.00 L409.54,106.00 Z" fill="#fff" stroke="#000" stroke-width="1"/>
<path d="M437.32,102.00 L440.02,105.00 L437.32,108.00 L434.62,105.00 Z" fill="#fff" stroke="#000" stroke-width="1"/>
<path d="M462.40,100.20 L465.10,103.20 L462.40,106.20 L459.70,103.20 Z" fill="#fff" stroke="#000" stroke-width="1"/>
<path d="M479.12,103.50 L481.82,106.50 L479.12,109.50 L476.42,106.50 Z" fill="#fff" stroke="#000" stroke-width="1"/>
<path d="M378.80,139.40 L382.98,90.20 L387.16,95.10 L391.34,96.00 L395.52,93.60 L403.88,99.90" fill="none" stroke="#000" stroke-width="1.1"/>
<circle cx="382.98" cy="90.20" r="2.25" fill="#fff" stroke="#000" stroke-width="1.1"/>
<circle cx="387.16" cy="95.10" r="2.25" fill="#fff" stroke="#000" stroke-width="1.1"/>
<circle cx="391.34" cy="96.00" r="2.25" fill="#fff" stroke="#000" stroke-width="1.1"/>
<circle cx="395.52" cy="93.60" r="2.25" fill="#fff" stroke="#000" stroke-width="1.1"/>
<circle cx="403.88" cy="99.90" r="2.25" fill="#fff" stroke="#000" stroke-width="1.1"/>
<circle cx="378.80" cy="139.40" r="2.6" fill="#000"/>
<circle cx="395.52" cy="139.40" r="2.6" fill="#000"/>
<circle cx="403.88" cy="139.40" r="2.6" fill="#000"/>
<circle cx="412.24" cy="139.40" r="2.6" fill="#000"/>
<circle cx="437.32" cy="139.40" r="2.6" fill="#000"/>
<circle cx="462.40" cy="139.40" r="2.6" fill="#000"/>
<circle cx="479.12" cy="139.40" r="2.6" fill="#000"/>
<path d="M64.90,343.80 L106.30,343.80 L127.00,343.80 L147.70,343.80" fill="none" stroke="#000" stroke-width="1.6"/>
<rect x="62.85" y="341.75" width="4.1" height="4.1" fill="#fff" stroke="#000" stroke-width="1.1"/>
<rect x="104.25" y="341.75" width="4.1" height="4.1" fill="#fff" stroke="#000" stroke-width="1.1"/>
<rect x="124.95" y="341.75" width="4.1" height="4.1" fill="#fff" stroke="#000" stroke-width="1.1"/>
<rect x="145.65" y="341.75" width="4.1" height="4.1" fill="#fff" stroke="#000" stroke-width="1.1"/>
<path d="M223.40,344.60 L224.43,256.20 L228.55,258.30 L234.57,261.20 L240.58,262.00 L249.17,261.60 L257.76,264.00 L266.35,264.00 L274.94,264.50 L283.53,266.00 L300.71,268.00 L309.30,268.00 L317.89,268.50" fill="none" stroke="#000" stroke-width="1.6"/>
<circle cx="223.40" cy="344.60" r="2.7" fill="#000"/>
<circle cx="224.43" cy="256.20" r="2.7" fill="#000"/>
<circle cx="228.55" cy="258.30" r="2.7" fill="#000"/>
<circle cx="234.57" cy="261.20" r="2.7" fill="#000"/>
<circle cx="240.58" cy="262.00" r="2.7" fill="#000"/>
<circle cx="249.17" cy="261.60" r="2.7" fill="#000"/>
<circle cx="257.76" cy="264.00" r="2.7" fill="#000"/>
<circle cx="266.35" cy="264.00" r="2.7" fill="#000"/>
<circle cx="274.94" cy="264.50" r="2.7" fill="#000"/>
<circle cx="283.53" cy="266.00" r="2.7" fill="#000"/>
<circle cx="300.71" cy="268.00" r="2.7" fill="#000"/>
<circle cx="309.30" cy="268.00" r="2.7" fill="#000"/>
<circle cx="317.89" cy="268.50" r="2.7" fill="#000"/>
<path d="M223.40,344.60 L225.12,259.60 L227.27,260.40 L229.41,261.40 L231.99,262.70 L236.28,263.60 L240.58,263.40 L249.17,266.40 L257.76,264.30 L266.35,263.80 L274.94,264.00 L283.53,266.00 L300.71,268.10 L309.30,267.30 L317.89,269.60" fill="none" stroke="#000" stroke-width="1.1"/>
<circle cx="223.40" cy="344.60" r="2.05" fill="#fff" stroke="#000" stroke-width="1.1"/>
<circle cx="225.12" cy="259.60" r="2.05" fill="#fff" stroke="#000" stroke-width="1.1"/>
<circle cx="227.27" cy="260.40" r="2.05" fill="#fff" stroke="#000" stroke-width="1.1"/>
<circle cx="229.41" cy="261.40" r="2.05" fill="#fff" stroke="#000" stroke-width="1.1"/>
<circle cx="231.99" cy="262.70" r="2.05" fill="#fff" stroke="#000" stroke-width="1.1"/>
<circle cx="236.28" cy="263.60" r="2.05" fill="#fff" stroke="#000" stroke-width="1.1"/>
<circle cx="240.58" cy="263.40" r="2.05" fill="#fff" stroke="#000" stroke-width="1.1"/>
<circle cx="249.17" cy="266.40" r="2.05" fill="#fff" stroke="#000" stroke-width="1.1"/>
<circle cx="257.76" cy="264.30" r="2.05" fill="#fff" stroke="#000" stroke-width="1.1"/>
<circle cx="266.35" cy="263.80" r="2.05" fill="#fff" stroke="#000" stroke-width="1.1"/>
<circle cx="274.94" cy="264.00" r="2.05" fill="#fff" stroke="#000" stroke-width="1.1"/>
<circle cx="283.53" cy="266.00" r="2.05" fill="#fff" stroke="#000" stroke-width="1.1"/>
<circle cx="300.71" cy="268.10" r="2.05" fill="#fff" stroke="#000" stroke-width="1.1"/>
<circle cx="309.30" cy="267.30" r="2.05" fill="#fff" stroke="#000" stroke-width="1.1"/>
<circle cx="317.89" cy="269.60" r="2.05" fill="#fff" stroke="#000" stroke-width="1.1"/>
<path d="M223.40,344.60 L225.98,260.60 L228.55,261.60 L231.13,262.40 L236.28,263.80 L240.58,264.00 L249.17,266.00 L257.76,264.50 L266.35,266.40 L274.94,267.00 L283.53,269.00 L300.71,268.10 L309.30,269.60 L317.89,269.60" fill="none" stroke="#000" stroke-width="1.1"/>
<circle cx="223.40" cy="344.60" r="2.05" fill="#fff" stroke="#000" stroke-width="1.1"/>
<circle cx="225.98" cy="260.60" r="2.05" fill="#fff" stroke="#000" stroke-width="1.1"/>
<circle cx="228.55" cy="261.60" r="2.05" fill="#fff" stroke="#000" stroke-width="1.1"/>
<circle cx="231.13" cy="262.40" r="2.05" fill="#fff" stroke="#000" stroke-width="1.1"/>
<circle cx="236.28" cy="263.80" r="2.05" fill="#fff" stroke="#000" stroke-width="1.1"/>
<circle cx="240.58" cy="264.00" r="2.05" fill="#fff" stroke="#000" stroke-width="1.1"/>
<circle cx="249.17" cy="266.00" r="2.05" fill="#fff" stroke="#000" stroke-width="1.1"/>
<circle cx="257.76" cy="264.50" r="2.05" fill="#fff" stroke="#000" stroke-width="1.1"/>
<circle cx="266.35" cy="266.40" r="2.05" fill="#fff" stroke="#000" stroke-width="1.1"/>
<circle cx="274.94" cy="267.00" r="2.05" fill="#fff" stroke="#000" stroke-width="1.1"/>
<circle cx="283.53" cy="269.00" r="2.05" fill="#fff" stroke="#000" stroke-width="1.1"/>
<circle cx="300.71" cy="268.10" r="2.05" fill="#fff" stroke="#000" stroke-width="1.1"/>
<circle cx="309.30" cy="269.60" r="2.05" fill="#fff" stroke="#000" stroke-width="1.1"/>
<circle cx="317.89" cy="269.60" r="2.05" fill="#fff" stroke="#000" stroke-width="1.1"/>
<path d="M381.00,344.60 L385.18,272.00 L389.36,270.00 L393.54,265.80 L397.72,249.60 L406.08,242.00 L414.44,246.60 L439.52,247.50 L464.60,246.00" fill="none" stroke="#000" stroke-width="1.1"/>
<rect x="378.40" y="342.00" width="5.2" height="5.2" fill="#000"/>
<rect x="382.58" y="269.40" width="5.2" height="5.2" fill="#000"/>
<rect x="386.76" y="267.40" width="5.2" height="5.2" fill="#000"/>
<rect x="390.94" y="263.20" width="5.2" height="5.2" fill="#000"/>
<rect x="395.12" y="247.00" width="5.2" height="5.2" fill="#000"/>
<rect x="403.48" y="239.40" width="5.2" height="5.2" fill="#000"/>
<rect x="411.84" y="244.00" width="5.2" height="5.2" fill="#000"/>
<rect x="462.00" y="243.40" width="5.2" height="5.2" fill="#000"/>
<path d="M381.00,344.60 L385.18,276.50 L389.36,272.00 L393.54,266.00 L397.72,257.20 L406.08,250.40 L414.44,247.10 L439.52,247.50 L464.60,246.50" fill="none" stroke="#000" stroke-width="1.1"/>
<circle cx="381.00" cy="344.60" r="2.7" fill="#000"/>
<circle cx="385.18" cy="276.50" r="2.7" fill="#000"/>
<circle cx="389.36" cy="272.00" r="2.7" fill="#000"/>
<circle cx="393.54" cy="266.00" r="2.7" fill="#000"/>
<circle cx="397.72" cy="257.20" r="2.7" fill="#000"/>
<circle cx="406.08" cy="250.40" r="2.7" fill="#000"/>
<circle cx="414.44" cy="247.10" r="2.7" fill="#000"/>
<circle cx="439.52" cy="247.50" r="2.7" fill="#000"/>
<circle cx="464.60" cy="246.50" r="2.7" fill="#000"/>
<rect x="462.00" y="243.40" width="5.2" height="5.2" fill="#000"/>
<path d="M381.00,344.60 L385.18,274.00 L389.36,266.90 L393.54,270.00 L397.72,266.20 L406.08,268.50 L414.44,266.90 L439.52,269.20 L464.60,269.50" fill="none" stroke="#000" stroke-width="1.1"/>
<path d="M381.00,341.60 L383.70,344.60 L381.00,347.60 L378.30,344.60 Z" fill="#fff" stroke="#000" stroke-width="1"/>
<path d="M385.18,271.00 L387.88,274.00 L385.18,277.00 L382.48,274.00 Z" fill="#fff" stroke="#000" stroke-width="1"/>
<path d="M389.36,263.90 L392.06,266.90 L389.36,269.90 L386.66,266.90 Z" fill="#fff" stroke="#000" stroke-width="1"/>
<path d="M393.54,267.00 L396.24,270.00 L393.54,273.00 L390.84,270.00 Z" fill="#fff" stroke="#000" stroke-width="1"/>
<path d="M397.72,263.20 L400.42,266.20 L397.72,269.20 L395.02,266.20 Z" fill="#fff" stroke="#000" stroke-width="1"/>
<path d="M406.08,265.50 L408.78,268.50 L406.08,271.50 L403.38,268.50 Z" fill="#fff" stroke="#000" stroke-width="1"/>
<path d="M414.44,263.90 L417.14,266.90 L414.44,269.90 L411.74,266.90 Z" fill="#fff" stroke="#000" stroke-width="1"/>
<path d="M439.52,266.20 L442.22,269.20 L439.52,272.20 L436.82,269.20 Z" fill="#fff" stroke="#000" stroke-width="1"/>
<path d="M464.60,266.50 L467.30,269.50 L464.60,272.50 L461.90,269.50 Z" fill="#fff" stroke="#000" stroke-width="1"/>
<path d="M381.00,344.60 L385.18,276.00 L389.36,277.00 L393.54,272.70 L397.72,277.00 L406.08,275.80 L414.44,267.30" fill="none" stroke="#000" stroke-width="1.1"/>
<rect x="378.95" y="342.55" width="4.1" height="4.1" fill="#fff" stroke="#000" stroke-width="1.1"/>
<rect x="383.13" y="273.95" width="4.1" height="4.1" fill="#fff" stroke="#000" stroke-width="1.1"/>
<rect x="387.31" y="274.95" width="4.1" height="4.1" fill="#fff" stroke="#000" stroke-width="1.1"/>
<rect x="391.49" y="270.65" width="4.1" height="4.1" fill="#fff" stroke="#000" stroke-width="1.1"/>
<rect x="395.67" y="274.95" width="4.1" height="4.1" fill="#fff" stroke="#000" stroke-width="1.1"/>
<rect x="404.03" y="273.75" width="4.1" height="4.1" fill="#fff" stroke="#000" stroke-width="1.1"/>
<rect x="412.39" y="265.25" width="4.1" height="4.1" fill="#fff" stroke="#000" stroke-width="1.1"/>
<path d="M381.00,344.60 L385.18,275.00 L389.36,276.00 L393.54,279.20 L397.72,281.20 L406.08,275.80 L414.44,268.00 L439.52,270.20 L464.60,270.40" fill="none" stroke="#000" stroke-width="1.1"/>
<circle cx="381.00" cy="344.60" r="2.25" fill="#fff" stroke="#000" stroke-width="1.1"/>
<circle cx="385.18" cy="275.00" r="2.25" fill="#fff" stroke="#000" stroke-width="1.1"/>
<circle cx="389.36" cy="276.00" r="2.25" fill="#fff" stroke="#000" stroke-width="1.1"/>
<circle cx="393.54" cy="279.20" r="2.25" fill="#fff" stroke="#000" stroke-width="1.1"/>
<circle cx="397.72" cy="281.20" r="2.25" fill="#fff" stroke="#000" stroke-width="1.1"/>
<circle cx="406.08" cy="275.80" r="2.25" fill="#fff" stroke="#000" stroke-width="1.1"/>
<circle cx="414.44" cy="268.00" r="2.25" fill="#fff" stroke="#000" stroke-width="1.1"/>
<circle cx="439.52" cy="270.20" r="2.25" fill="#fff" stroke="#000" stroke-width="1.1"/>
<circle cx="464.60" cy="270.40" r="2.25" fill="#fff" stroke="#000" stroke-width="1.1"/>
<circle cx="64.40" cy="138.90" r="2.5" fill="#000"/>
<circle cx="222.00" cy="139.50" r="2.25" fill="#fff" stroke="#000" stroke-width="1.1"/>
<circle cx="378.80" cy="139.40" r="2.7" fill="#000"/>
<rect x="62.75" y="341.65" width="4.300000000000001" height="4.300000000000001" fill="#fff" stroke="#000" stroke-width="1.1"/>
<circle cx="223.40" cy="344.60" r="2.1500000000000004" fill="#fff" stroke="#000" stroke-width="1.1"/>
<circle cx="381.00" cy="344.60" r="2.6" fill="#000"/>
</svg></body></html>
